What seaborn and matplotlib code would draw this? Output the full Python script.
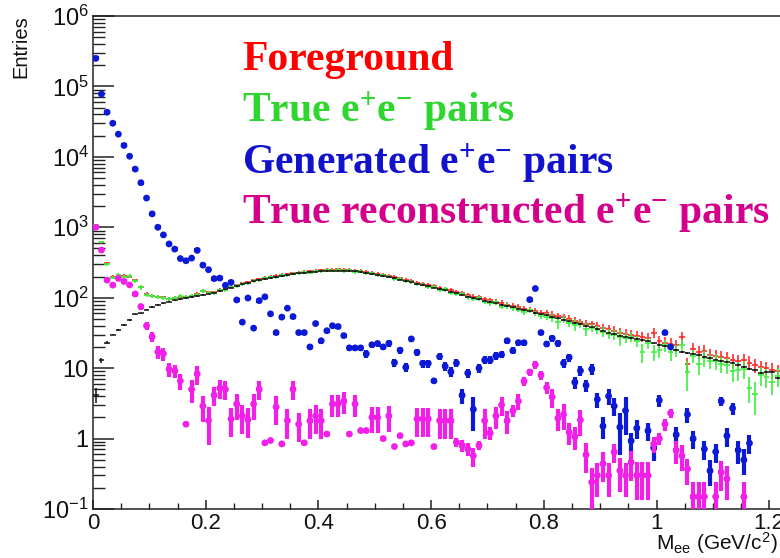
import numpy as np
import matplotlib
matplotlib.use("Agg")
import matplotlib.pyplot as plt
import seaborn as sns
from matplotlib.ticker import FixedLocator, FixedFormatter, MultipleLocator, LogLocator, NullFormatter

nan = np.nan

# ---- histogram binning: 10 MeV bins starting at 0 ----
BIN_WIDTH = 0.01
N_BINS = 122

# ---- bin contents ----
foreground = [
    1050, 610, 310, 198, 210, 205, 200, 178, 143, 112,
    107, 104, 101, 97, 99, 104, 103, 107, 112, 124,
    120, 119, 129, 133, 143, 150, 161, 166, 176, 184,
    193, 198, 204, 211, 215, 222, 228, 232, 238, 242,
    246, 250, 251, 252, 250, 248, 243, 240, 233, 228,
    220, 213, 205, 196, 188, 180, 172, 164, 158, 151,
    146, 139, 133, 127, 121, 115, 110, 104, 101, 96,
    92, 88, 84, 80, 77, 75, 70, 68, 65, 61,
    60, 57, 55, 53, 50, 47, 45, 43, 42, 40,
    37, 36, 34, 32, 31, 30, 29, 28, 27, 32,
    24, 23, 22, 21, 27.5, 11.5, 19, 17, 17.5, 15.5,
    15, 14.5, 14, 13, 12.5, 13, 12, 11, 10.5, 10,
    9.5, 9,
]
foreground_relerr = (
    [0.03, 0.04, 0.05, 0.05, 0.05, 0.05, 0.05, 0.05, 0.06, 0.06]
    + [0.06] * 10 + [0.05] * 30 + [0.06] * 10 + [0.07] * 10 + [0.09] * 10
    + [0.12] * 10 + [0.15] * 10 + [0.2] * 10 + [0.22] * 10 + [0.25, 0.25]
)

true_pairs = [
    1070, 620, 300, 193, 213, 200, 205, 174, 140, 110,
    105, 103, 100, 95, 100, 105, 102, 106, 110, 126,
    118, 116, 127, 129, 141, 146, 158, 160, 174, 176,
    190, 194, 196, 208, 207, 219, 224, 229, 228, 238,
    236, 247, 241, 248, 240, 244, 232, 236, 222, 224,
    208, 207, 200, 186, 184, 170, 168, 155, 154, 141,
    143, 130, 131, 118, 112, 113, 101, 97, 98, 88,
    85, 86, 75, 77, 71, 68, 62, 66, 60, 55,
    54, 52, 45, 49, 44, 41.5, 42, 36, 37, 35,
    33, 31, 30, 27.5, 27, 28, 24, 16.7, 23, 17,
    18, 21, 16.7, 18, 21, 8.7, 15, 11.5, 14, 12.8,
    12.5, 11.5, 11, 9.2, 9.5, 9.8, 5.3, 4.3, 8, 7.4,
    6.3, 7.8,
]
true_pairs_relerr = (
    [0.03, 0.04, 0.05, 0.06, 0.06, 0.06, 0.06, 0.06, 0.07, 0.07]
    + [0.07] * 10 + [0.06] * 10 + [0.05] * 20 + [0.06] * 10 + [0.07] * 10 + [0.09] * 10
    + [0.12, 0.12, 0.2, 0.12, 0.12, 0.2, 0.12, 0.2, 0.13, 0.14]
    + [0.15, 0.15, 0.15, 0.25, 0.15, 0.15, 0.18, 0.3, 0.18, 0.25]
    + [0.22, 0.2, 0.25, 0.2, 0.2, 0.45, 0.22, 0.3, 0.25, 0.25]
    + [0.25, 0.25, 0.25, 0.3, 0.3, 0.28, 0.4, 0.5, 0.3, 0.3]
    + [0.35, 0.3]
)

generated = [
    2.5e5, 7.8e4, 4.3e4, 3.0e4, 2.1e4, 1.45e4, 1.02e4, 6.7e3, 4.3e3, 2.6e3,
    1550, 1000, 780, 580, 490, 360, 335, 365, 470, 290,
    250, 187, 190, 150, 165, 93, 45, 99, 37, 91,
    103, 59, 32, 53, 71, 54, 32, 32, 20, 43,
    24.5, 34, 40, 39, 29, 19.4, 19.4, 19.4, 16, 21.5,
    22.4, 20, 22.5, 12, 18, 10.3, 26, 16.7, 11.7, 11.7,
    6.6, 14.6, 10.6, 8.9, 11.8, 4.1, 8.5, 2.6, 10, 13,
    13, 15, 15.6, 24.5, 17.7, 23, 23, 94, 135, 32,
    22, 26.5, 22.5, 11.8, 14.2, 6.3, 9.2, 5.7, 9.7, 3.6,
    1.5, 4.0, 2.9, 1.45, 2.5, 0.93, 1.4, nan, 1.3, 0.74,
    3.5, 32, 20, 1.14, nan, 2.2, 1.0, nan, 0.71, 0.35,
    0.65, 3.4, 1.1, 2.7, 0.68, 0.5, 0.86, nan, nan, nan,
    nan, nan,
]
generated_relerr = (
    [0.01] * 10 + [0.02] * 10
    + [0.04, 0.04, 0.04, 0.04, 0.04, 0.06, 0.08, 0.06, 0.08, 0.06]
    + [0.06, 0.07, 0.08, 0.07, 0.06, 0.07, 0.08, 0.08, 0.1, 0.07]
    + [0.09, 0.08, 0.08, 0.08, 0.09, 0.1, 0.1, 0.1, 0.12, 0.1]
    + [0.1, 0.1, 0.1, 0.13, 0.11, 0.14, 0.1, 0.12, 0.13, 0.13]
    + [0.05, 0.12, 0.14, 0.15, 0.13, 0.25, 0.16, 0.5, 0.14, 0.13]
    + [0.13, 0.12, 0.12, 0.1, 0.11, 0.1, 0.1, 0.04, 0.03, 0.08]
    + [0.1, 0.1, 0.1, 0.14, 0.13, 0.2, 0.17, 0.2, 0.17, 0.25]
    + [0.35, 0.25, 0.28, 0.6, 0.55, 0.3, 0.3, 0, 0.3, 0.35]
    + [0.2, 0.05, 0.06, 0.3, 0, 0.25, 0.3, 0, 0.3, 0.4]
    + [0.3, 0.15, 0.3, 0.2, 0.35, 0.4, 0.3, 0, 0, 0]
    + [0, 0]
)

true_reco = [
    1000, 475, 178, 151, 188, 170, 152, 113, 75, 40,
    28, 17, 16, 9.7, 9.2, 6.6, 1.6, 5.0, 8.3, 2.9,
    1.8, 4.1, 5.2, 5.0, 1.9, 3.1, 2.1, 1.86, 3.1, 5.0,
    0.87, 0.94, 2.8, 0.84, 1.8, 5.0, 1.6, 0.87, 1.8, 2.1,
    1.8, 1.16, 3.1, 3.1, 3.4, 1.16, 3.1, 1.3, 1.3, 2.0,
    2.0, 1.0, 2.1, 0.77, 1.1, 0.84, 0.87, 1.9, 1.9, 1.9,
    0.77, 1.8, 1.8, 1.8, 0.89, 0.8, 0.71, 0.57, 0.8, 1.8,
    1.2, 2.1, 3.0, 1.8, 2.5, 3.4, 6.5, 8.8, 11.2, 8.0,
    5.3, 3.9, 1.94, 2.2, 1.23, 1.07, 1.84, 0.59, 0.24, 0.30,
    0.44, 0.30, 0.64, 0.35, 0.30, 0.46, 0.30, 0.30, 0.30, 0.84,
    1.0, 1.6, 2.3, 0.68, 0.57, 0.37, 0.15, 0.15, 0.15, nan,
    0.15, 0.33, 0.27, nan, nan, 0.15, nan, nan, nan, nan,
    nan, nan,
]
true_reco_relerr = (
    [0.03, 0.04, 0.06, 0.06, 0.06, 0.06, 0.06, 0.08, 0.1, 0.14]
    + [0.16, 0.2, 0.2, 0.22, 0.22, 0.25, 0.08, 0.35, 0.3, 0.4]
    + [0.55, 0.3, 0.3, 0.3, 0.45, 0.4, 0.45, 0.45, 0.4, 0.3]
    + [0.08, 0.08, 0.45, 0.08, 0.45, 0.3, 0.45, 0.08, 0.45, 0.45]
    + [0.45, 0.08, 0.35, 0.35, 0.35, 0.08, 0.35, 0.08, 0.08, 0.4]
    + [0.4, 0.08, 0.4, 0.08, 0.08, 0.08, 0.08, 0.45, 0.45, 0.45]
    + [0.08, 0.45, 0.45, 0.45, 0.15, 0.2, 0.2, 0.3, 0.15, 0.45]
    + [0.2, 0.35, 0.3, 0.35, 0.2, 0.25, 0.15, 0.12, 0.12, 0.15]
    + [0.2, 0.3, 0.35, 0.4, 0.35, 0.35, 0.4, 0.45, 0.6, 0.5]
    + [0.45, 0.5, 0.3, 0.5, 0.5, 0.45, 0.55, 0.55, 0.55, 0.25]
    + [0.2, 0.2, 0.15, 0.35, 0.4, 0.4, 0.6, 0.6, 0.6, 0]
    + [0.6, 0.45, 0.5, 0, 0, 0.6, 0, 0, 0, 0]
    + [0, 0]
)

# smooth black reference histogram
reference = [
    4.2, 13, 23, 30, 35, 41, 48, 58, 60, 68,
    74, 79, 83, 88, 92, 96, 99, 102, 106, 110,
    114, 118, 124, 131, 139, 147, 155, 163, 171, 179,
    186, 192, 198, 204, 210, 216, 221, 226, 230, 234,
    238, 241, 243, 243, 242, 240, 236, 231, 225, 219,
    212, 205, 197, 189, 181, 173, 165, 158, 151, 145,
    139, 133, 127, 121, 115, 109, 104, 99, 95, 91,
    87, 83, 79, 76, 73, 70, 67, 64, 61, 58,
    56, 53, 51, 48, 46, 44, 42, 40, 38, 36,
    34, 32, 30.5, 29, 28, 27, 26, 25, 24, 22.5,
    21.5, 20.5, 19.5, 18, 17, 16.5, 16, 15.2, 14.5, 14,
    13.2, 12.6, 12.4, 12, 11, 10.4, 9.8, 9.3, 8.6, 8.8,
    8.8, 7.2,
]
reference_relerr = [0.25, 0.08, 0.05] + [0.025] * 119

legend_labels = ["Foreground", r"True $\mathbf{e^{+}e^{-}}$ pairs",
                 r"Generated $\mathbf{e^{+}e^{-}}$ pairs",
                 r"True reconstructed $\mathbf{e^{+}e^{-}}$ pairs"]

ytick_values = [1e-1, 1, 10, 1e2, 1e3, 1e4, 1e5, 1e6]
ytick_labels = [r"$10^{-1}$", "1", "10", r"$10^{2}$", r"$10^{3}$",
                r"$10^{4}$", r"$10^{5}$", r"$10^{6}$"]
xtick_values = [0, 0.2, 0.4, 0.6, 0.8, 1.0, 1.2]
xtick_labels = ["0", "0.2", "0.4", "0.6", "0.8", "1", "1.2"]

# ---- style ----
sns.set_theme(style="ticks")
plt.rcParams["font.family"] = ["Liberation Sans", "DejaVu Sans"]
plt.rcParams["mathtext.fontset"] = "custom"
plt.rcParams["mathtext.rm"] = "Liberation Sans"
plt.rcParams["mathtext.it"] = "Liberation Sans:italic"
plt.rcParams["mathtext.bf"] = "Liberation Serif:bold"

W, H = 780, 558
fig = plt.figure(figsize=(W / 100, H / 100), dpi=100)
fig.patch.set_facecolor("white")
ax_left, ax_right, ax_top, ax_bottom = 93, 780, 16, 509
ax = fig.add_axes([ax_left / W, 1 - ax_bottom / H, (ax_right - ax_left) / W, (ax_bottom - ax_top) / H])
ax.set_facecolor("white")

centers = (np.arange(N_BINS) + 0.5) * BIN_WIDTH


def draw_hist(values, relerr, color, lw, marker_size, z):
    y = np.asarray(values, dtype=float)
    r = np.asarray(relerr, dtype=float)
    ok = ~np.isnan(y)
    ax.errorbar(centers[ok], y[ok], xerr=BIN_WIDTH / 2, yerr=y[ok] * r[ok],
                fmt="none", ecolor=color, elinewidth=lw, capsize=0, zorder=z)
    if marker_size:
        sns.scatterplot(x=centers[ok], y=y[ok], color=color, s=marker_size,
                        edgecolor="none", linewidth=0, ax=ax, zorder=z + 0.1, legend=False)


RED, GREEN, BLUE, MAGENTA, BLACK = "#ff2a2a", "#3cf03c", "#0c1ad6", "#f21fe8", "#111111"

draw_hist(foreground, foreground_relerr, RED, 1.2, 0, 2)
draw_hist(true_pairs, true_pairs_relerr, GREEN, 1.2, 0, 3)
draw_hist(reference, reference_relerr, BLACK, 1.1, 0, 4)
draw_hist(generated, generated_relerr, BLUE, 3.0, 24, 5)
draw_hist(true_reco, true_reco_relerr, MAGENTA, 3.0, 24, 6)

# ---- axes ----
ax.set_yscale("log")
ax.set_ylim(0.1, 1e6)
ax.set_xlim(0, (ax_right - ax_left) / 563.5)

ax.yaxis.set_major_locator(FixedLocator(ytick_values))
ax.yaxis.set_major_formatter(FixedFormatter(ytick_labels))
ax.yaxis.set_minor_locator(LogLocator(base=10, subs=np.arange(2, 10)))
ax.yaxis.set_minor_formatter(NullFormatter())
ax.xaxis.set_major_locator(FixedLocator(xtick_values))
ax.xaxis.set_major_formatter(FixedFormatter(xtick_labels))
ax.xaxis.set_minor_locator(MultipleLocator(0.05))

ax.tick_params(axis="y", which="major", direction="in", length=15, width=1.1,
               color="#222222", labelsize=17, pad=3, labelcolor="#111111")
ax.tick_params(axis="y", which="minor", direction="in", length=8.5, width=1.0, color="#222222")
ax.tick_params(axis="x", which="major", direction="in", length=6.5, width=1.1,
               color="#222222", labelsize=16, pad=3, labelcolor="#111111")
ax.tick_params(axis="x", which="minor", direction="in", length=4.2, width=1.0, color="#222222")

for side in ["left", "bottom", "top"]:
    ax.spines[side].set_color("#222222")
    ax.spines[side].set_linewidth(1.1)
ax.spines["right"].set_visible(False)
ax.set_xlabel("")
ax.set_ylabel("")

# axis titles
fig.text(21 / W, 1 - 15 / H, "Entries", rotation=90, ha="center", va="top",
         fontsize=14.5, color="#111111")
fig.text(778 / W, 1 - 550 / H, r"M$_{\mathrm{ee}}$ (GeV/c$^{2}$)", ha="right",
         va="baseline", fontsize=15, color="#111111")

# coloured legend text
legend_colors = ["#ff0000", "#2fd62f", "#1212cc", "#d4008c"]
legend_baselines = [70, 122, 174, 224]
for label, col, yb in zip(legend_labels, legend_colors, legend_baselines):
    fig.text(242 / W, 1 - yb / H, label, color=col, fontsize=30,
             fontfamily="Liberation Serif", fontweight="bold", va="baseline", ha="left")

fig.savefig("out.png", dpi=100, facecolor="white")
